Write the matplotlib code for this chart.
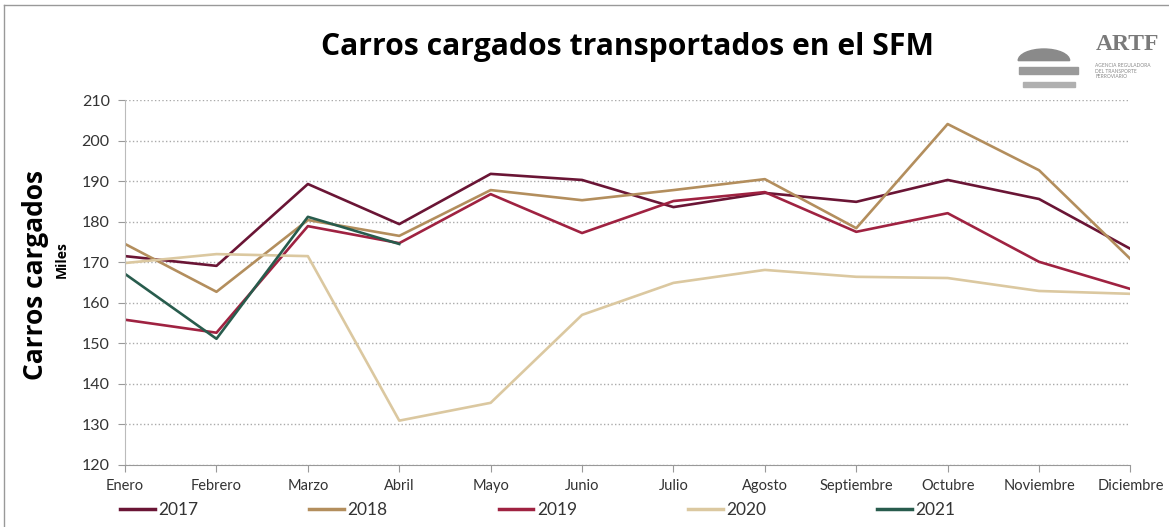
import matplotlib.pyplot as plt
from matplotlib.lines import Line2D
from matplotlib.patches import Wedge, Rectangle

plt.rcParams['font.family'] = ['Lato', 'DejaVu Sans']

meses = ['Enero', 'Febrero', 'Marzo', 'Abril', 'Mayo', 'Junio', 'Julio',
         'Agosto', 'Septiembre', 'Octubre', 'Noviembre', 'Diciembre']

v2017 = [171.5, 169.1, 189.3, 179.4, 191.8, 190.3, 183.6, 187.1, 184.9, 190.3, 185.6, 173.3]
v2018 = [174.5, 162.7, 180.4, 176.5, 187.8, 185.3, 187.8, 190.5, 178.4, 204.1, 192.7, 170.8]
v2019 = [155.8, 152.6, 178.9, 174.7, 186.8, 177.2, 185.1, 187.3, 177.5, 182.1, 170.1, 163.4]
v2020 = [169.8, 172.0, 171.5, 130.9, 135.3, 157.0, 164.9, 168.1, 166.4, 166.1, 162.9, 162.2]
v2021 = [167.1, 151.1, 181.2, 174.5]

series = [('2017', v2017, '#6a1535'),
          ('2018', v2018, '#b38e5d'),
          ('2019', v2019, '#9f2241'),
          ('2020', v2020, '#dbc8a0'),
          ('2021', v2021, '#285c4d')]

fig = plt.figure(figsize=(11.69, 5.27), dpi=100)
ax = fig.add_axes([0.107, 0.118, 0.860, 0.692])

for nombre, vals, color in series:
    ax.plot(range(len(vals)), vals, color=color, linewidth=1.9, label=nombre)

ax.set_xlim(0, 11)
ax.set_ylim(120, 210)
ax.set_yticks(range(120, 211, 10))
ax.set_xticks(range(12))
ax.set_xticklabels(meses, fontsize=10.5, color='#333333')
ax.tick_params(axis='y', labelsize=11.5, colors='#333333', length=5, color='#999999', pad=6)
ax.tick_params(axis='x', length=5, color='#999999', pad=5)
ax.grid(axis='y', color='#aaaaaa', linestyle=':', linewidth=1)
for s in ['top', 'right']:
    ax.spines[s].set_visible(False)
ax.spines['left'].set_color('#bbbbbb')
ax.spines['bottom'].set_color('#999999')
ax.set_axisbelow(True)

fig.text(0.537, 0.911, 'Carros cargados transportados en el SFM', ha='center', va='center',
         fontsize=21.7, fontweight='bold', color='black', family='Open Sans')
fig.text(0.030, 0.478, 'Carros cargados', rotation=90, ha='center', va='center',
         fontsize=19, fontweight='bold', family='Open Sans')
fig.text(0.053, 0.507, 'Miles', rotation=90, ha='center', va='center',
         fontsize=10, fontweight='bold', family='Open Sans')

# logo
fig.add_artist(Wedge((0.893, 0.885), 0.022, 0, 180, transform=fig.transFigure,
                     color='#8a8a8a'))
fig.add_artist(Rectangle((0.872, 0.86), 0.05, 0.012, transform=fig.transFigure,
                         color='#9a9a9a'))
fig.add_artist(Rectangle((0.875, 0.835), 0.045, 0.01, transform=fig.transFigure,
                         color='#b0b0b0'))
fig.text(0.937, 0.915, 'ARTF', ha='left', va='center', fontsize=17, fontweight='bold',
         color='#7a7a7a', family='Liberation Serif')
fig.text(0.937, 0.865, 'AGENCIA REGULADORA\nDEL TRANSPORTE\nFERROVIARIO', ha='left', va='center',
         fontsize=3.5, color='#8a8a8a', linespacing=1.1)

handles = [Line2D([], [], color=c, linewidth=2.5) for _, _, c in series]
fig.legend(handles, [n for n, _, _ in series], loc='center', ncol=5,
           bbox_to_anchor=(0.46, 0.032), frameon=False, fontsize=12.5,
           handlelength=2.0, columnspacing=6.4, handletextpad=0.2,
           labelcolor='#333333')

# marco
fig.add_artist(Line2D([0.003, 0.003], [0, 0.99], transform=fig.transFigure, color='#999999', linewidth=1))
fig.add_artist(Line2D([0.003, 1], [0.99, 0.99], transform=fig.transFigure, color='#999999', linewidth=1))

fig.savefig('out.png', dpi=100)
